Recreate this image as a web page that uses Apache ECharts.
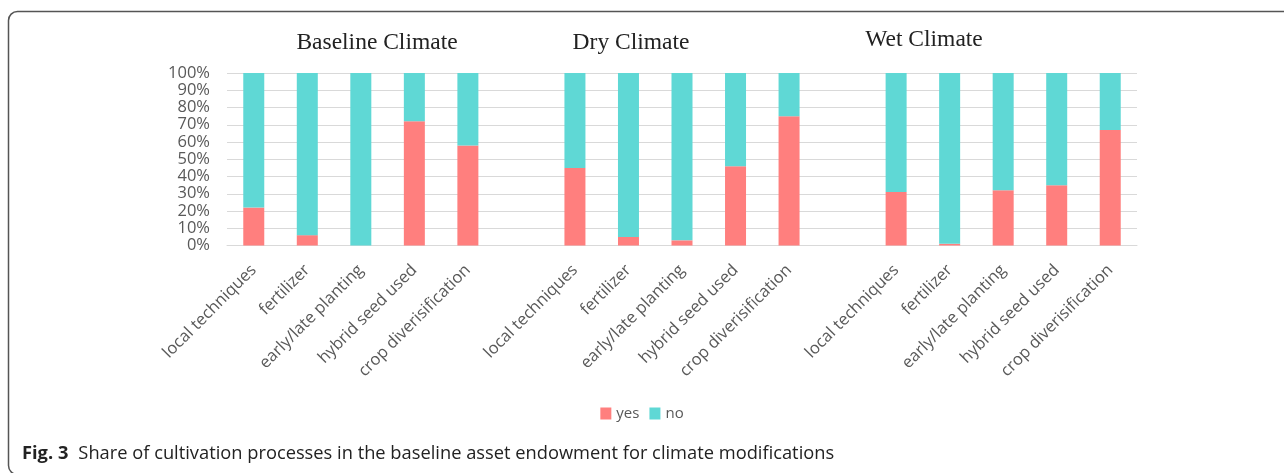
<!DOCTYPE html>
<html>
<head>
<meta charset="utf-8">
<script src="https://cdn.jsdelivr.net/npm/echarts@6/dist/echarts.min.js"></script>
<style>
html,body{margin:0;padding:0;background:#fff;}
#chart{width:1284px;height:473px;}
</style>
</head>
<body>
<div id="chart"></div>
<script>
const processes = ['local techniques','fertilizer','early/late planting','hybrid seed used','crop diverisification'];
const groupTitles = ['Baseline Climate','Dry Climate','Wet Climate'];
const yesBaseline = [22, 6, 0, 72, 58];
const noBaseline  = [78, 94, 100, 28, 42];
const yesDry = [45, 5, 3, 46, 75];
const noDry  = [55, 95, 97, 54, 25];
const yesWet = [31, 1, 32, 35, 67];
const noWet  = [69, 99, 68, 65, 33];
const yTicks = [0,10,20,30,40,50,60,70,80,90,100];

// categories: three groups separated by one empty slot
const categories = [].concat(processes, [' '], processes, ['  '], processes);
const yesData = [].concat(yesBaseline, ['-'], yesDry, ['-'], yesWet);
const noData  = [].concat(noBaseline, ['-'], noDry, ['-'], noWet);

const chart = echarts.init(document.getElementById('chart'), null, {renderer:'canvas'});
const labelColor = '#595959';
const sans = '"Open Sans", "Noto Sans", sans-serif';
const serif = '"Liberation Serif", "DejaVu Serif", serif';
const titleStyle = {fontFamily:serif,fontSize:23.5,fontWeight:'normal',color:'#222'};

chart.setOption({
  backgroundColor:'#fff',
  animation:false,
  title:[
    {text:groupTitles[0], left:372, top:26, textAlign:'center', textStyle:titleStyle},
    {text:groupTitles[1], left:626, top:26, textAlign:'center', textStyle:titleStyle},
    {text:groupTitles[2], left:919, top:23, textAlign:'center', textStyle:titleStyle},
    {text:'{b|Fig. 3}  {n|Share of cultivation processes in the baseline asset endowment for climate modifications}', left:17, top:440,
     textStyle:{rich:{
       b:{fontFamily:sans,fontSize:18.3,fontWeight:'bold',color:'#222'},
       n:{fontFamily:sans,fontSize:18.3,fontWeight:'normal',color:'#222'}
     }}}
  ],
  graphic:[
    {type:'rect', shape:{x:8.5,y:11.5,width:1300,height:463,r:9}, style:{fill:null,stroke:'#555',lineWidth:1.5}, silent:true}
  ],
  legend:{
    data:['yes','no'], left:'center', top:401, itemWidth:11, itemHeight:12, itemGap:10,
    textStyle:{fontFamily:sans,fontSize:15,color:labelColor},
    icon:'rect'
  },
  grid:{left:227, right:147, top:73, bottom:227.5, containLabel:false},
  xAxis:{
    type:'category', data:categories,
    axisLine:{show:true,lineStyle:{color:'#d9d9d9',width:1}},
    axisTick:{show:false},
    axisLabel:{rotate:45, interval:0, margin:22, fontFamily:sans, fontSize:16.5, color:labelColor}
  },
  yAxis:{
    type:'value', min:0, max:100, interval:10,
    axisLine:{show:false}, axisTick:{show:false},
    splitLine:{lineStyle:{color:'#d9d9d9',width:1}},
    axisLabel:{margin:17, fontFamily:sans, fontSize:16.5, color:labelColor, formatter: v => v + '%'}
  },
  series:[
    {name:'yes', type:'bar', stack:'s', data:yesData, barWidth:21, itemStyle:{color:'#FF7F7E'}},
    {name:'no', type:'bar', stack:'s', data:noData, barWidth:21, itemStyle:{color:'#5FD8D5'}}
  ]
});
</script>
</body>
</html>
